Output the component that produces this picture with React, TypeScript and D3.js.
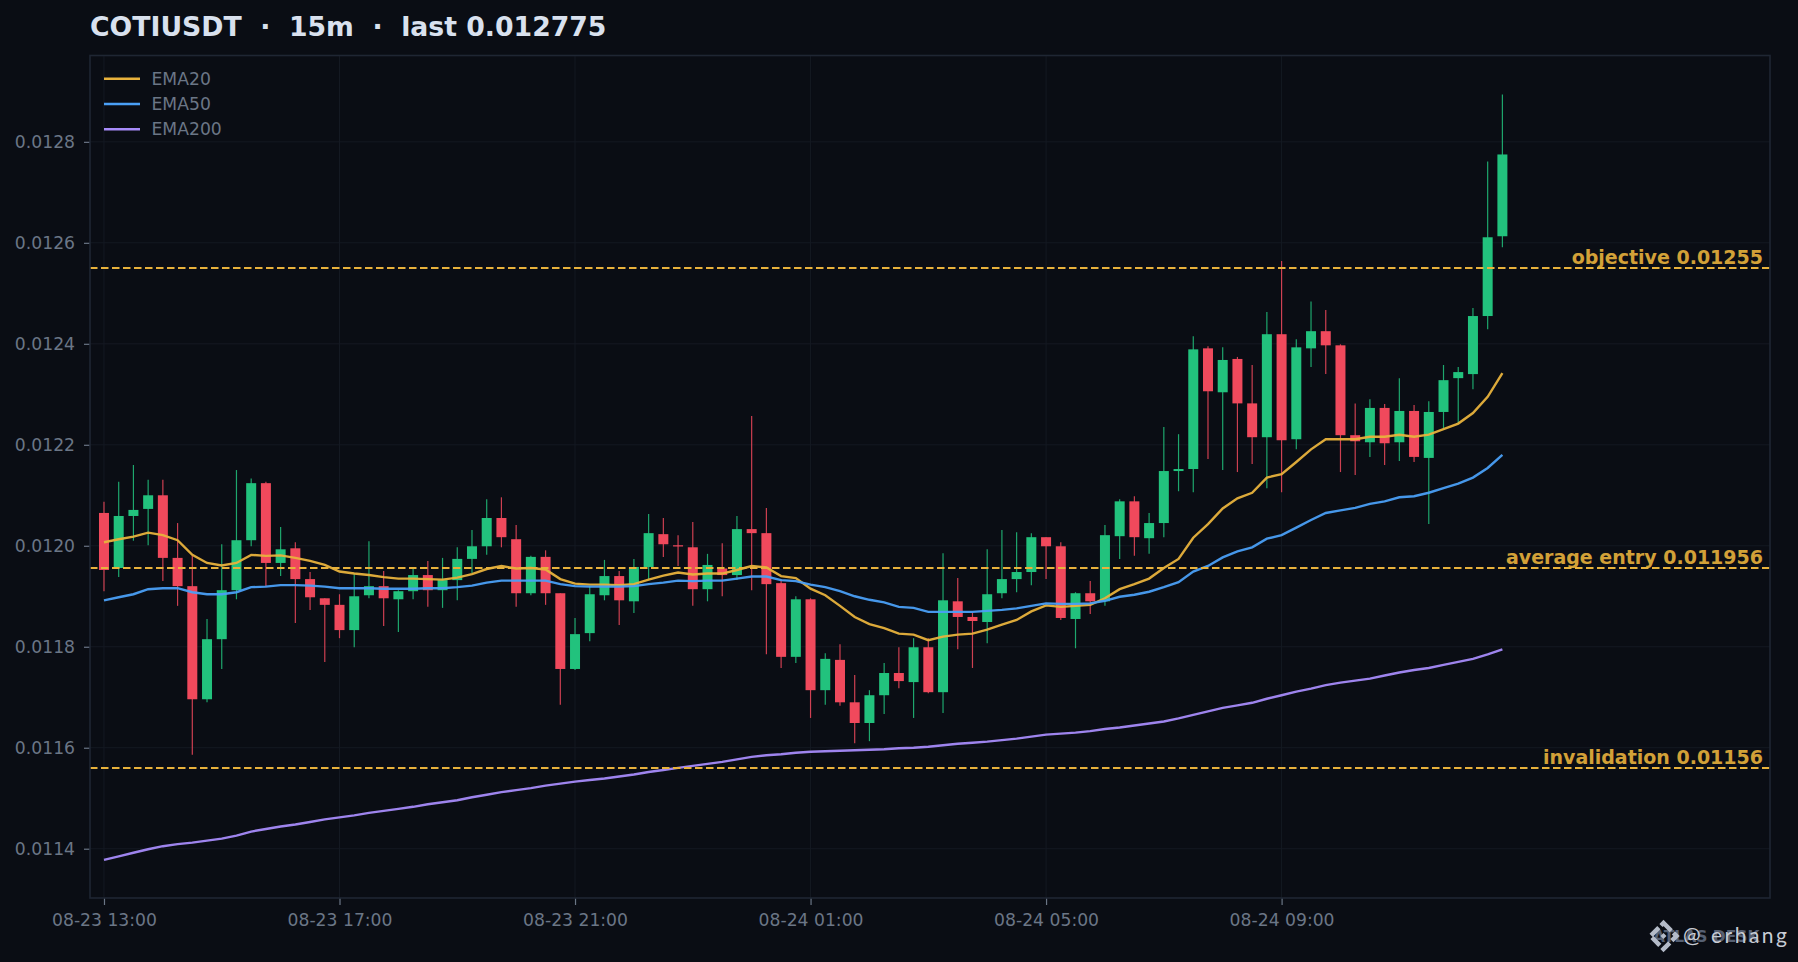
import React, { useEffect, useRef } from 'react'
import * as d3 from 'd3'

const opens = [
  0.012065, 0.011956, 0.012059, 0.012073, 0.012100, 0.011976, 0.011920, 0.011696, 0.011815, 0.011912, 0.012011, 0.012124,
  0.011966, 0.011995, 0.011934, 0.011896, 0.011883, 0.011833, 0.011902, 0.011920, 0.011894, 0.011910, 0.011942, 0.011912,
  0.011932, 0.011974, 0.011999, 0.012055, 0.012013, 0.011906, 0.011978, 0.011906, 0.011756, 0.011827, 0.011902, 0.011940,
  0.011890, 0.011958, 0.012023, 0.012001, 0.011997, 0.011914, 0.011955, 0.011942, 0.012033, 0.012025, 0.011926, 0.011780,
  0.011894, 0.011714, 0.011774, 0.011690, 0.011649, 0.011704, 0.011748, 0.011730, 0.011799, 0.011710, 0.011890, 0.011859,
  0.011849, 0.011906, 0.011934, 0.011948, 0.012017, 0.011999, 0.011855, 0.011906, 0.011890, 0.012019, 0.012088, 0.012015,
  0.012045, 0.012148, 0.012152, 0.012391, 0.012304, 0.012370, 0.012282, 0.012215, 0.012419, 0.012211, 0.012391, 0.012425,
  0.012397, 0.012219, 0.012205, 0.012273, 0.012205, 0.012267, 0.012174, 0.012265, 0.012332, 0.012340, 0.012455, 0.012613
]
const closes = [
  0.011952, 0.012059, 0.012071, 0.012100, 0.011976, 0.011920, 0.011696, 0.011815, 0.011912, 0.012011, 0.012124, 0.011966,
  0.011993, 0.011934, 0.011898, 0.011883, 0.011833, 0.011900, 0.011920, 0.011896, 0.011910, 0.011942, 0.011912, 0.011932,
  0.011974, 0.011999, 0.012055, 0.012017, 0.011906, 0.011978, 0.011906, 0.011756, 0.011825, 0.011904, 0.011940, 0.011892,
  0.011958, 0.012025, 0.012003, 0.012000, 0.011914, 0.011962, 0.011942, 0.012033, 0.012025, 0.011924, 0.011780, 0.011894,
  0.011714, 0.011776, 0.011690, 0.011649, 0.011704, 0.011748, 0.011732, 0.011799, 0.011710, 0.011892, 0.011859, 0.011851,
  0.011904, 0.011934, 0.011948, 0.012017, 0.011999, 0.011857, 0.011906, 0.011890, 0.012021, 0.012088, 0.012017, 0.012045,
  0.012148, 0.012152, 0.012389, 0.012306, 0.012368, 0.012282, 0.012215, 0.012419, 0.012209, 0.012393, 0.012425, 0.012397,
  0.012219, 0.012207, 0.012273, 0.012203, 0.012267, 0.012176, 0.012265, 0.012328, 0.012344, 0.012455, 0.012611, 0.012775
]
const highs = [
  0.012087, 0.012127, 0.012160, 0.012131, 0.012131, 0.012045, 0.011980, 0.011855, 0.012003, 0.012150, 0.012133, 0.012127,
  0.012037, 0.012007, 0.011948, 0.011896, 0.011904, 0.011945, 0.012009, 0.011950, 0.011912, 0.011956, 0.011970, 0.011976,
  0.011997, 0.012031, 0.012092, 0.012096, 0.012041, 0.011980, 0.011991, 0.011906, 0.011857, 0.011920, 0.011972, 0.011950,
  0.011974, 0.012063, 0.012055, 0.012021, 0.012047, 0.011984, 0.012005, 0.012059, 0.012257, 0.012075, 0.011934, 0.011900,
  0.011896, 0.011787, 0.011805, 0.011744, 0.011714, 0.011768, 0.011799, 0.011817, 0.011817, 0.011985, 0.011936, 0.011867,
  0.011993, 0.012031, 0.012027, 0.012025, 0.012017, 0.012007, 0.011908, 0.011930, 0.012041, 0.012092, 0.012098, 0.012065,
  0.012235, 0.012221, 0.012415, 0.012395, 0.012393, 0.012374, 0.012358, 0.012463, 0.012564, 0.012409, 0.012484, 0.012467,
  0.012399, 0.012282, 0.012290, 0.012281, 0.012332, 0.012279, 0.012286, 0.012358, 0.012354, 0.012471, 0.012761, 0.012894
]
const lows = [
  0.011910, 0.011938, 0.012010, 0.012001, 0.011930, 0.011881, 0.011586, 0.011690, 0.011756, 0.011894, 0.011999, 0.011920,
  0.011940, 0.011847, 0.011873, 0.011770, 0.011817, 0.011799, 0.011896, 0.011841, 0.011829, 0.011894, 0.011879, 0.011877,
  0.011892, 0.011946, 0.011982, 0.011997, 0.011879, 0.011902, 0.011883, 0.011685, 0.011754, 0.011811, 0.011892, 0.011843,
  0.011867, 0.011934, 0.011978, 0.011960, 0.011881, 0.011890, 0.011900, 0.011932, 0.011912, 0.011785, 0.011758, 0.011768,
  0.011659, 0.011685, 0.011683, 0.011609, 0.011613, 0.011667, 0.011718, 0.011659, 0.011708, 0.011669, 0.011795, 0.011758,
  0.011807, 0.011896, 0.011908, 0.011922, 0.011934, 0.011853, 0.011797, 0.011865, 0.011881, 0.011974, 0.011980, 0.011984,
  0.012017, 0.012108, 0.012106, 0.012172, 0.012150, 0.012146, 0.012162, 0.012114, 0.012106, 0.012191, 0.012354, 0.012340,
  0.012146, 0.012140, 0.012176, 0.012160, 0.012168, 0.012166, 0.012043, 0.012233, 0.012243, 0.012310, 0.012429, 0.012591
]

const ema20 = [
  0.012007, 0.012013, 0.012018, 0.012026, 0.012021, 0.012011, 0.011982, 0.011966, 0.011961, 0.011966, 0.011982, 0.011980,
  0.011981, 0.011976, 0.011970, 0.011962, 0.011949, 0.011945, 0.011942, 0.011938, 0.011935, 0.011935, 0.011934, 0.011933,
  0.011937, 0.011944, 0.011954, 0.011960, 0.011955, 0.011956, 0.011953, 0.011934, 0.011925, 0.011923, 0.011923, 0.011922,
  0.011924, 0.011933, 0.011941, 0.011947, 0.011943, 0.011945, 0.011945, 0.011952, 0.011960, 0.011957, 0.011940, 0.011936,
  0.011915, 0.011902, 0.011881, 0.011859, 0.011845, 0.011837, 0.011826, 0.011824, 0.011813, 0.011820, 0.011824, 0.011826,
  0.011834, 0.011844, 0.011853, 0.011870, 0.011882, 0.011879, 0.011881, 0.011883, 0.011896, 0.011914, 0.011924, 0.011935,
  0.011956, 0.011974, 0.012016, 0.012043, 0.012074, 0.012094, 0.012105, 0.012135, 0.012142, 0.012166, 0.012191, 0.012211,
  0.012211, 0.012211, 0.012216, 0.012216, 0.012220, 0.012216, 0.012220, 0.012231, 0.012242, 0.012263, 0.012295, 0.012342
]
const ema50 = [
  0.011892, 0.011898, 0.011904, 0.011914, 0.011916, 0.011916, 0.011908, 0.011904, 0.011904, 0.011908, 0.011918, 0.011919,
  0.011922, 0.011922, 0.011921, 0.011919, 0.011916, 0.011916, 0.011916, 0.011915, 0.011915, 0.011915, 0.011916, 0.011916,
  0.011918, 0.011921, 0.011927, 0.011931, 0.011931, 0.011931, 0.011931, 0.011924, 0.011920, 0.011919, 0.011919, 0.011919,
  0.011920, 0.011924, 0.011927, 0.011931, 0.011930, 0.011931, 0.011931, 0.011935, 0.011939, 0.011939, 0.011932, 0.011930,
  0.011923, 0.011918, 0.011910, 0.011900, 0.011893, 0.011888, 0.011879, 0.011877, 0.011869, 0.011869, 0.011869, 0.011869,
  0.011871, 0.011873, 0.011876, 0.011881, 0.011886, 0.011885, 0.011885, 0.011886, 0.011891, 0.011899, 0.011903, 0.011909,
  0.011918, 0.011928, 0.011949, 0.011960, 0.011977, 0.011989, 0.011997, 0.012014, 0.012021, 0.012036, 0.012051, 0.012065,
  0.012070, 0.012075, 0.012083, 0.012088, 0.012096, 0.012098, 0.012105, 0.012114, 0.012123, 0.012135, 0.012154, 0.012180
]
const ema200 = [
  0.011378, 0.011385, 0.011392, 0.011399, 0.011405, 0.011409, 0.011412, 0.011416, 0.011420, 0.011426, 0.011434, 0.011439,
  0.011444, 0.011448, 0.011453, 0.011458, 0.011462, 0.011466, 0.011471, 0.011475, 0.011479, 0.011483, 0.011488, 0.011492,
  0.011496, 0.011502, 0.011507, 0.011512, 0.011516, 0.011520, 0.011525, 0.011529, 0.011533, 0.011536, 0.011539, 0.011543,
  0.011547, 0.011552, 0.011556, 0.011560, 0.011564, 0.011568, 0.011572, 0.011577, 0.011582, 0.011585, 0.011587, 0.011590,
  0.011592, 0.011593, 0.011594, 0.011595, 0.011596, 0.011597, 0.011599, 0.011600, 0.011602, 0.011605, 0.011608, 0.011610,
  0.011612, 0.011615, 0.011618, 0.011622, 0.011626, 0.011628, 0.011630, 0.011633, 0.011637, 0.011640, 0.011644, 0.011648,
  0.011652, 0.011658, 0.011665, 0.011672, 0.011679, 0.011684, 0.011689, 0.011697, 0.011704, 0.011711, 0.011717, 0.011724,
  0.011729, 0.011733, 0.011737, 0.011743, 0.011749, 0.011754, 0.011758, 0.011764, 0.011770, 0.011776, 0.011785, 0.011795
]

const xTickIndex = [0, 16, 32, 48, 64, 80]
const xTickLabels = ['08-23 13:00', '08-23 17:00', '08-23 21:00', '08-24 01:00', '08-24 05:00', '08-24 09:00']
const yTicks = [0.0114, 0.0116, 0.0118, 0.012, 0.0122, 0.0124, 0.0126, 0.0128]
const levels = [
  { value: 0.01255, label: 'objective 0.01255' },
  { value: 0.011956, label: 'average entry 0.011956' },
  { value: 0.01156, label: 'invalidation 0.01156' }
]
const emaSeries = [
  { name: 'EMA20', values: ema20, color: '#e8b23c' },
  { name: 'EMA50', values: ema50, color: '#4a9ff5' },
  { name: 'EMA200', values: ema200, color: '#a78bfa' }
]

const width = 1798
const height = 962
const margin = { top: 55.5, right: 28, bottom: 64, left: 90 }
const bg = '#0a0d14'
const gridCol = '#141922'
const spineCol = '#1f2633'
const tickCol = '#6b7686'
const upCol = '#22c27d'
const downCol = '#f0495c'
const gold = '#e8b23c'
const font = '"DejaVu Sans", sans-serif'

const App = () => {
  const ref = useRef<SVGSVGElement>(null)

  useEffect(() => {
    const svg = d3.select(ref.current)
    svg.selectAll('*').remove()

    const x = d3.scaleLinear().domain([-0.95, 113.18]).range([margin.left, width - margin.right])
    const y = d3.scaleLinear().domain([0.0113024, 0.012971]).range([height - margin.bottom, margin.top])

    svg.append('rect').attr('width', width).attr('height', height).attr('fill', bg)

    // grid
    const grid = svg.append('g').attr('stroke', gridCol).attr('stroke-width', 1)
    yTicks.forEach(t => {
      grid.append('line').attr('x1', margin.left).attr('x2', width - margin.right).attr('y1', y(t)).attr('y2', y(t))
    })
    xTickIndex.forEach(t => {
      grid.append('line').attr('x1', x(t)).attr('x2', x(t)).attr('y1', margin.top).attr('y2', height - margin.bottom)
    })

    // candles
    const candles = svg.append('g')
    const colorOf = (i: number) => (closes[i] >= opens[i] ? upCol : downCol)
    opens.forEach((open, i) => {
      candles
        .append('line')
        .attr('x1', x(i))
        .attr('x2', x(i))
        .attr('y1', y(highs[i]))
        .attr('y2', y(lows[i]))
        .attr('stroke', colorOf(i))
        .attr('stroke-width', 1.2)
        .attr('opacity', 0.85)
    })
    opens.forEach((open, i) => {
      const top = y(Math.max(open, closes[i]))
      const bottom = y(Math.min(open, closes[i]))
      candles
        .append('rect')
        .attr('x', x(i) - 5)
        .attr('width', 10)
        .attr('y', top)
        .attr('height', Math.max(bottom - top, 1.2))
        .attr('fill', colorOf(i))
    })

    // emas
    const line = d3
      .line<number>()
      .x((_, i) => x(i))
      .y(d => y(d))
    emaSeries.forEach(s => {
      svg
        .append('path')
        .attr('d', line(s.values))
        .attr('fill', 'none')
        .attr('stroke', s.color)
        .attr('stroke-width', 2.4)
        .attr('opacity', 0.95)
    })

    // levels
    levels.forEach(l => {
      svg
        .append('line')
        .attr('x1', margin.left)
        .attr('x2', width - margin.right)
        .attr('y1', y(l.value))
        .attr('y2', y(l.value))
        .attr('stroke', gold)
        .attr('stroke-width', 1.9)
        .attr('stroke-dasharray', '7.5 3.5')
      svg
        .append('text')
        .attr('x', width - margin.right - 7)
        .attr('y', y(l.value) - 4)
        .attr('text-anchor', 'end')
        .attr('fill', gold)
        .attr('opacity', 0.9)
        .style('font', `bold 19px ${font}`)
        .text(l.label)
    })

    // axes
    const yAxis = svg
      .append('g')
      .attr('transform', `translate(${margin.left},0)`)
      .call(d3.axisLeft(y).tickValues(yTicks).tickFormat(d3.format('.4f')).tickSize(6).tickPadding(9))
    const xAxis = svg
      .append('g')
      .attr('transform', `translate(0,${height - margin.bottom})`)
      .call(
        d3
          .axisBottom(x)
          .tickValues(xTickIndex)
          .tickFormat((_, i) => xTickLabels[i])
          .tickSize(7)
          .tickPadding(9)
      )
    ;[yAxis, xAxis].forEach(a => {
      a.select('.domain').remove()
      a.selectAll('line').attr('stroke', tickCol).attr('stroke-width', 1.2)
      a.selectAll('text').attr('fill', tickCol).style('font', `17.2px ${font}`)
    })

    svg
      .append('rect')
      .attr('x', margin.left)
      .attr('y', margin.top)
      .attr('width', width - margin.left - margin.right)
      .attr('height', height - margin.top - margin.bottom)
      .attr('fill', 'none')
      .attr('stroke', spineCol)
      .attr('stroke-width', 1.6)

    // legend
    emaSeries.forEach((s, i) => {
      const ly = 78.7 + i * 25.3
      svg.append('line').attr('x1', 104).attr('x2', 140).attr('y1', ly).attr('y2', ly).attr('stroke', s.color).attr('stroke-width', 2.4)
      svg
        .append('text')
        .attr('x', 151.5)
        .attr('y', ly + 6)
        .attr('fill', tickCol)
        .style('font', `17.2px ${font}`)
        .text(s.name)
    })

    // title
    svg
      .append('text')
      .attr('x', 90)
      .attr('y', 35.5)
      .attr('fill', '#d9e1ee')
      .attr('xml:space', 'preserve')
      .style('white-space', 'pre')
      .style('font', `bold 26.7px ${font}`)
      .text('COTIUSDT  ·  15m  ·  last 0.012775')

    // watermark
    const wm = svg.append('g')
    wm.append('text')
      .attr('x', 1653)
      .attr('y', 942)
      .attr('fill', '#566073')
      .style('font', `bold 15.5px ${font}`)
      .text('ATLAS DESK')
    const cx = 1663.5
    const cy = 936
    const r = 13
    wm.append('path')
      .attr('d', `M${cx},${cy - r}L${cx + r},${cy}L${cx},${cy + r}L${cx - r},${cy}Z`)
      .attr('fill', 'none')
      .attr('stroke', '#b4bbc8')
      .attr('stroke-width', 4.5)
      .attr('stroke-dasharray', '11 3')
    wm.append('path')
      .attr('d', `M${cx},${cy - 3}L${cx + 3},${cy}L${cx},${cy + 3}L${cx - 3},${cy}Z`)
      .attr('fill', '#b4bbc8')
    wm.append('text')
      .attr('x', 1683)
      .attr('y', 943)
      .attr('fill', '#c8ccd4')
      .attr('textLength', 104)
      .style('font', '21px Lato, sans-serif')
      .text('@ erhang')
  }, [])

  return <svg ref={ref} width={width} height={height} style={{ position: 'absolute', left: 0, top: 0, display: 'block' }} />
}

export default App
